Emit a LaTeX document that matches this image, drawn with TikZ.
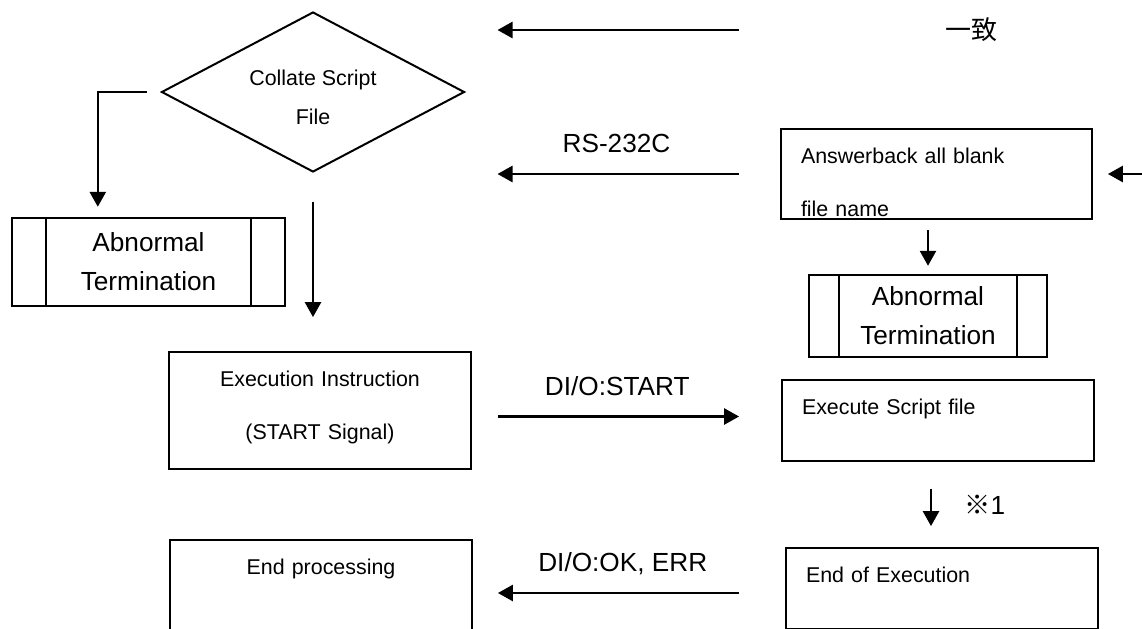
\documentclass[tikz,border=0pt]{standalone}
\usepackage{fontspec}
\setmainfont{Liberation Sans}
\newfontfamily\cjk{Noto Sans CJK JP}
\usepackage{tikz}
\usetikzlibrary{positioning,shapes.geometric,arrows.meta}

\begin{document}
\begin{tikzpicture}[x=0.5pt, y=-0.5pt,
  flow/.style={-{Triangle[length=7.5pt,width=8pt]}, line width=1.3pt},
  box/.style={rectangle, draw, line width=0.9pt, inner ysep=0pt, font=\fontsize{10.7}{26.5}\selectfont, text height=17pt},
  lbox/.style={box, align=left, inner xsep=10pt},
  cbox/.style={box, align=center, inner xsep=0pt},
  subproc/.style={rectangle, draw, line width=1.2pt, inner sep=0pt, align=center, font=\fontsize{13.1}{19.5}\selectfont,
    path picture={\draw[line width=1.2pt] ([xshift=#1]path picture bounding box.north west) -- ([xshift=#1]path picture bounding box.south west)
      ([xshift=-#1]path picture bounding box.north east) -- ([xshift=-#1]path picture bounding box.south east);}},
  subproc/.default=16pt,
  cond/.style={diamond, draw, line width=1pt, inner sep=0pt, shape aspect=1.9, align=center, font=\fontsize{10.7}{19.5}\selectfont,
    text height=33pt, text depth=0.3pt},
  sig/.style={font=\fontsize{13.1}{15}\selectfont, anchor=base, yshift=10.6pt}]

  \useasboundingbox (0,0) rectangle (1142,628);

  % Nodes
  \node[cond, minimum width=151.5pt, minimum height=80pt] (collate) at (313,92) {Collate Script\\File};
  \node[subproc=17pt, minimum width=136.5pt, minimum height=44pt] (abort1) at (148.5,262) {Abnormal\\Termination};
  \node[cbox, text width=151pt, text depth=41.5pt] (instr) at (320,410.5) {Execution Instruction\\(START Signal)};
  \node[cbox, text width=151pt, text depth=28pt] (endproc) at (321,585) {End processing};

  \node[font=\cjk\fontsize{13}{15}\selectfont, inner sep=0pt] (match) at (971,30) {一致};
  \node[lbox, text width=135.5pt, text depth=28pt] (answer) at (936.5,174) {Answerback all blank\\file name};
  \node[subproc=15pt, minimum width=119pt, minimum height=41pt] (abort2) at (928,316) {Abnormal\\Termination};
  \node[lbox, text width=136pt, text depth=23.5pt] (execute) at (938,420.5) {Execute Script file};
  \node[lbox, text width=136pt, text depth=23.5pt] (endexec) at (942,588.5) {End of Execution};

  % Arrows
  \draw[flow, shorten <=20.5pt, shorten >=16pt] (answer.west |- match) -- (collate.east |- match);
  \draw[flow, shorten <=20.5pt, shorten >=16pt] (answer.west) -- (answer.west -| collate.east) node[sig, pos=0.52] {RS-232C};
  \draw[flow, shorten >=7.5pt] ([xshift=30pt]answer.east) -- (answer.east);
  \draw[flow, shorten <=5pt, shorten >=4pt] (abort2.north |- answer.south) -- (abort2.north);

  \draw[flow, shorten <=7pt, shorten >=5pt] (collate.west) -| ([xshift=43.5pt]abort1.north west);
  \draw[flow, shorten <=14.5pt, shorten >=17pt] (collate.south) -- (collate.south |- instr.north);

  \draw[flow, shorten <=13pt, shorten >=21pt] ([yshift=-3pt]instr.east) -- ([yshift=-3pt]instr.east -| execute.west) node[sig, pos=0.47] {DI/O:START};
  \draw[flow, shorten <=13.5pt, shorten >=10.5pt] ([xshift=-3.5pt]execute.south) -- ([xshift=-3.5pt]execute.south |- endexec.north)
    node[midway, right=16pt, inner sep=0pt, font=\fontsize{13.1}{15}\selectfont] {{\cjk ※}1};
  \draw[flow, shorten <=23pt, shorten >=12.5pt] ([yshift=-2.25pt]endexec.west) -- ([yshift=-2.25pt]endexec.west -| endproc.east) node[sig, pos=0.52] {DI/O:OK, ERR};

\end{tikzpicture}
\end{document}
